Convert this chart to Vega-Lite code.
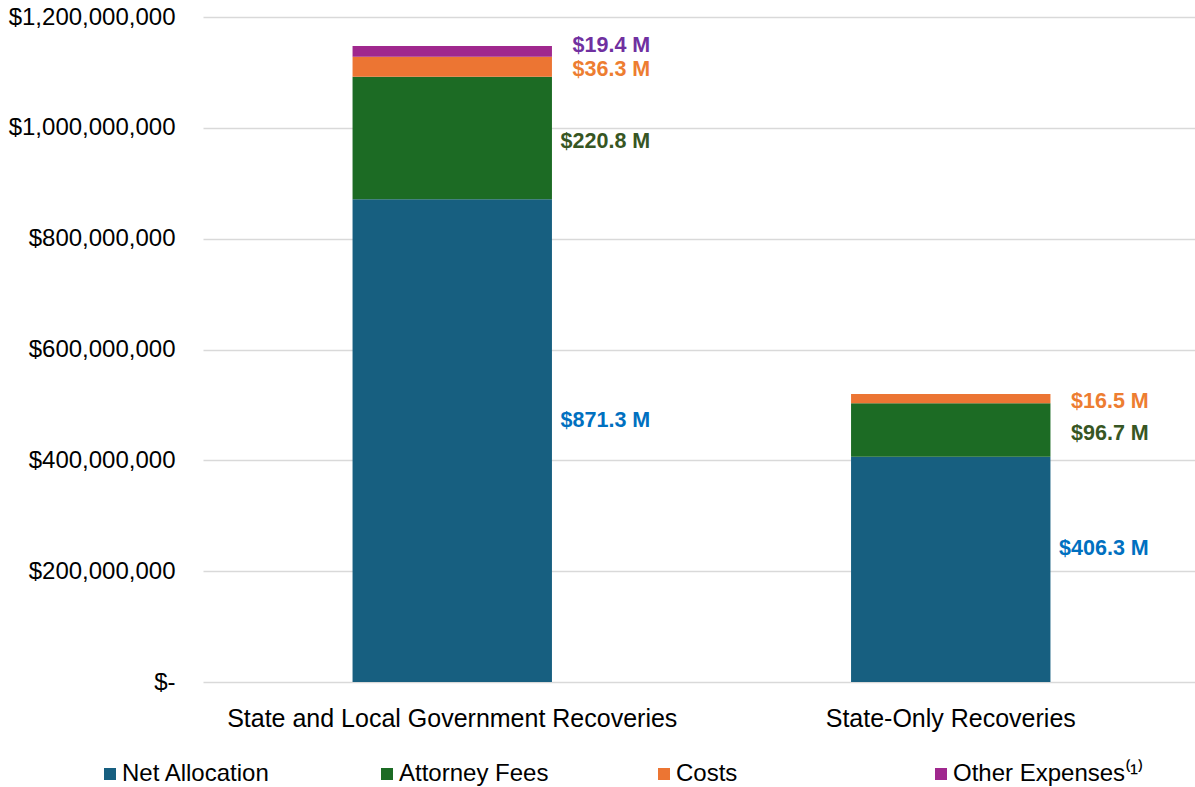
{
  "$schema": "https://vega.github.io/schema/vega-lite/v6.json",
  "width": 997,
  "height": 665,
  "autosize": {"type": "none"},
  "padding": {"left": 203, "top": 17, "right": 0, "bottom": 105},
  "background": "white",
  "config": {
    "view": {"stroke": null},
    "font": "Liberation Sans"
  },
  "data": {
    "values": [
      {"category": "State and Local Government Recoveries", "series": "Net Allocation", "order": 1, "amount": 871300000},
      {"category": "State and Local Government Recoveries", "series": "Attorney Fees", "order": 2, "amount": 220800000},
      {"category": "State and Local Government Recoveries", "series": "Costs", "order": 3, "amount": 36300000},
      {"category": "State and Local Government Recoveries", "series": "Other Expenses⁽¹⁾", "order": 4, "amount": 19400000},
      {"category": "State-Only Recoveries", "series": "Net Allocation", "order": 1, "amount": 406300000},
      {"category": "State-Only Recoveries", "series": "Attorney Fees", "order": 2, "amount": 96700000},
      {"category": "State-Only Recoveries", "series": "Costs", "order": 3, "amount": 16500000}
    ]
  },
  "encoding": {
    "x": {
      "field": "category",
      "type": "nominal",
      "sort": null,
      "scale": {"paddingInner": 0.6, "paddingOuter": 0.3},
      "axis": {
        "title": null,
        "labelAngle": 0,
        "labelFontSize": 25,
        "labelColor": "#000000",
        "ticks": false,
        "domain": false,
        "labelPadding": 24,
        "labelLimit": 600
      }
    }
  },
  "layer": [
    {
      "mark": {"type": "bar"},
      "encoding": {
        "y": {
          "field": "amount",
          "type": "quantitative",
          "stack": "zero",
          "scale": {"domain": [0, 1200000000], "nice": false},
          "axis": {
            "title": null,
            "values": [0, 200000000, 400000000, 600000000, 800000000, 1000000000, 1200000000],
            "labelExpr": "datum.value == 0 ? '$-' : format(datum.value, '$,.0f')",
            "labelFontSize": 24,
            "labelColor": "#000000",
            "ticks": false,
            "domain": false,
            "labelPadding": 28,
            "gridColor": "#D9D9D9",
            "gridWidth": 1.5
          }
        },
        "color": {
          "field": "series",
          "type": "nominal",
          "scale": {
            "domain": ["Net Allocation", "Attorney Fees", "Costs", "Other Expenses⁽¹⁾"],
            "range": ["#175F80", "#1C6B24", "#EC7533", "#A0288E"]
          },
          "legend": {
            "title": null,
            "orient": "none",
            "legendX": -105,
            "legendY": 745,
            "direction": "horizontal",
            "columns": 4,
            "gridAlign": "all",
            "columnPadding": 62,
            "padding": 0,
            "symbolType": "square",
            "symbolSize": 144,
            "symbolStrokeWidth": 0,
            "labelFontSize": 24,
            "labelColor": "#000000",
            "labelOffset": 0,
            "labelLimit": 400
          }
        },
        "order": {"field": "order", "type": "quantitative"}
      }
    },
    {
      "transform": [
        {"stack": "amount", "groupby": ["category"], "sort": [{"field": "order", "order": "ascending"}], "as": ["y0", "y1"]},
        {"calculate": "(datum.y0 + datum.y1) / 2", "as": "mid"},
        {"calculate": "'$' + format(datum.amount / 1000000, '.1f') + ' M'", "as": "label"}
      ],
      "encoding": {
        "y": {"field": "mid", "type": "quantitative"},
        "text": {"field": "label"},
        "color": {
          "field": "series",
          "type": "nominal",
          "scale": {
            "domain": ["Net Allocation", "Attorney Fees", "Costs", "Other Expenses⁽¹⁾"],
            "range": ["#0070C0", "#375623", "#ED7D31", "#7030A0"]
          },
          "legend": null
        }
      },
      "layer": [
        {
          "transform": [{"filter": "datum.series == 'Net Allocation'"}],
          "mark": {"type": "text", "align": "right", "baseline": "middle", "dx": 198, "dy": -20, "fontSize": 21.5, "fontWeight": "bold"}
        },
        {
          "transform": [{"filter": "datum.series == 'Attorney Fees'"}],
          "mark": {"type": "text", "align": "right", "baseline": "middle", "dx": 198, "dy": 4, "fontSize": 21.5, "fontWeight": "bold"}
        },
        {
          "transform": [{"filter": "datum.series == 'Costs'"}],
          "mark": {"type": "text", "align": "right", "baseline": "middle", "dx": 198, "dy": 3, "fontSize": 21.5, "fontWeight": "bold"}
        },
        {
          "transform": [{"filter": "datum.series == 'Other Expenses⁽¹⁾'"}],
          "mark": {"type": "text", "align": "right", "baseline": "middle", "dx": 198, "dy": -5, "fontSize": 21.5, "fontWeight": "bold"}
        }
      ]
    }
  ],
  "resolve": {"scale": {"color": "independent"}}
}
